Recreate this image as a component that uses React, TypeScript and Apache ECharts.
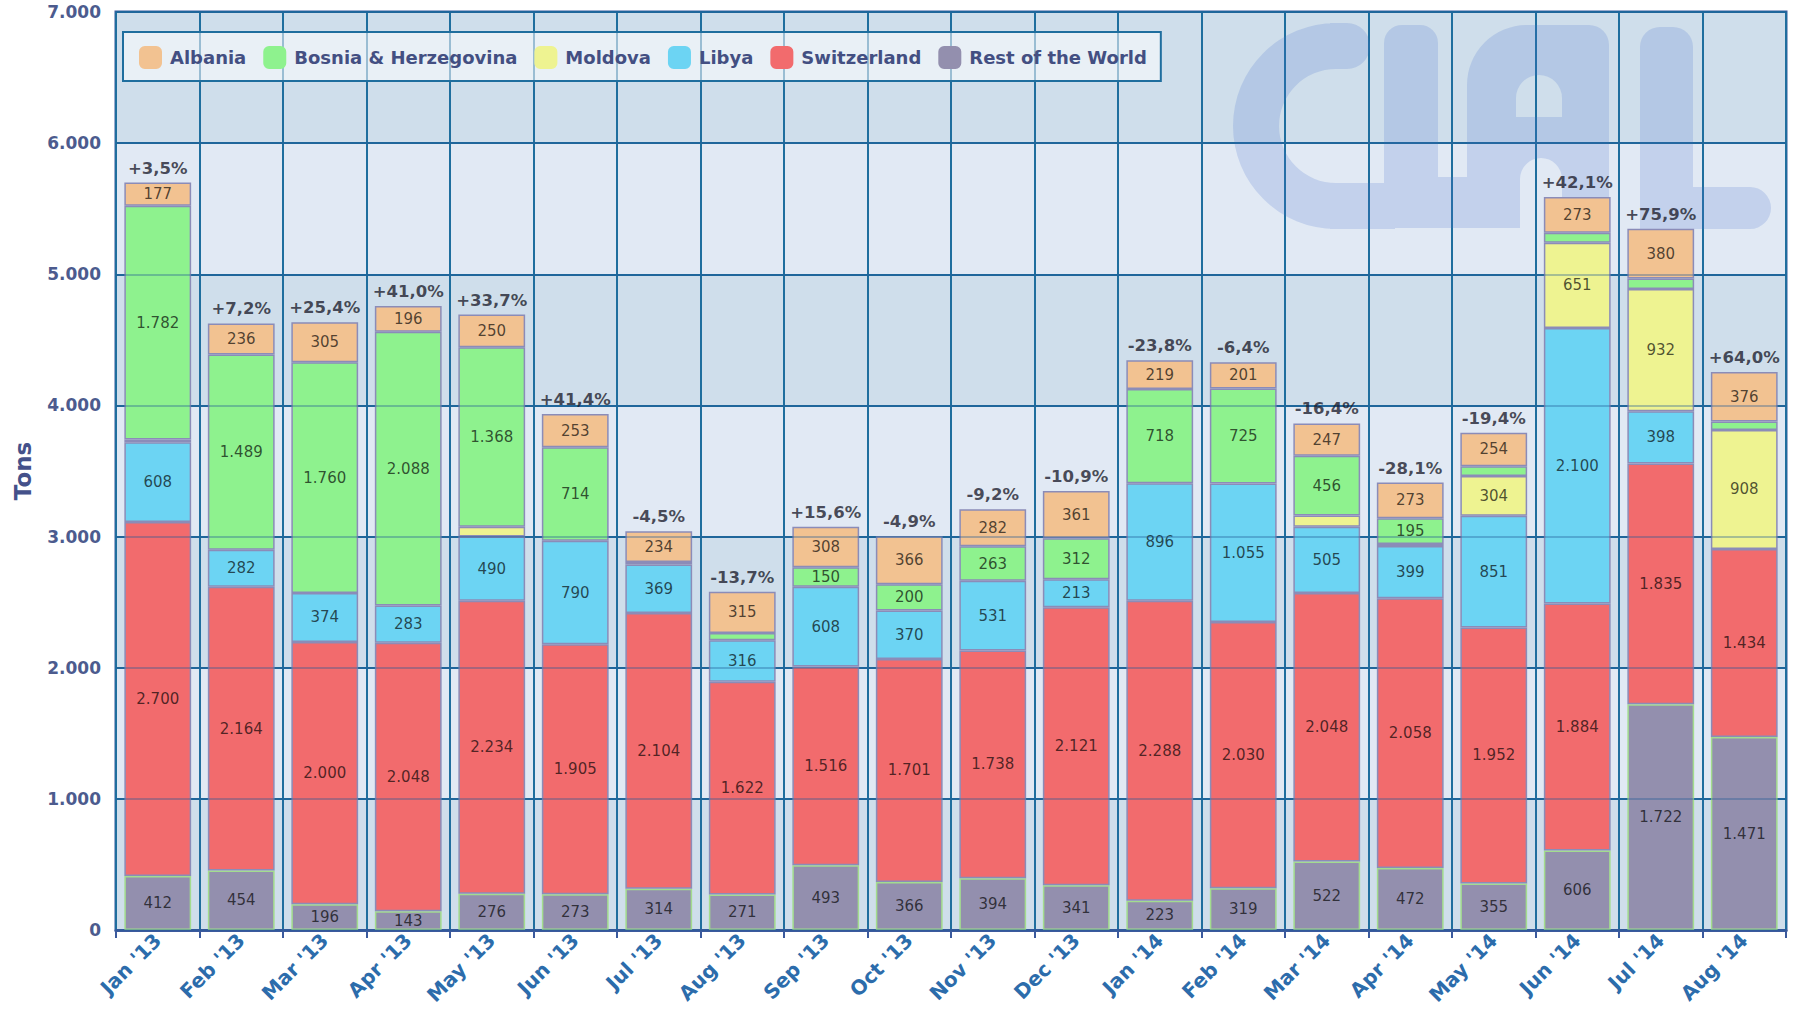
import React, { useEffect, useRef } from "react";
import * as echarts from "echarts";

const categories = [
  "Jan '13", "Feb '13", "Mar '13", "Apr '13", "May '13", "Jun '13", "Jul '13", "Aug '13", "Sep '13", "Oct '13",
  "Nov '13", "Dec '13", "Jan '14", "Feb '14", "Mar '14", "Apr '14", "May '14", "Jun '14", "Jul '14", "Aug '14",
];

const restOfWorld = [412, 454, 196, 143, 276, 273, 314, 271, 493, 366, 394, 341, 223, 319, 522, 472, 355, 606, 1722, 1471];
const switzerland = [2700, 2164, 2000, 2048, 2234, 1905, 2104, 1622, 1516, 1701, 1738, 2121, 2288, 2030, 2048, 2058, 1952, 1884, 1835, 1434];
const libya = [608, 282, 374, 283, 490, 790, 369, 316, 608, 370, 531, 213, 896, 1055, 505, 399, 851, 2100, 398, 0];
const moldova = [20, 0, 0, 0, 75, 0, 0, 0, 0, 0, 0, 0, 0, 0, 85, 15, 304, 651, 932, 908];
const bosnia = [1782, 1489, 1760, 2088, 1368, 714, 20, 55, 150, 200, 263, 312, 718, 725, 456, 195, 75, 75, 80, 65];
const albania = [177, 236, 305, 196, 250, 253, 234, 315, 308, 366, 282, 361, 219, 201, 247, 273, 254, 273, 380, 376];

const changeLabels = [
  "+3,5%", "+7,2%", "+25,4%", "+41,0%", "+33,7%", "+41,4%", "-4,5%", "-13,7%", "+15,6%", "-4,9%",
  "-9,2%", "-10,9%", "-23,8%", "-6,4%", "-16,4%", "-28,1%", "-19,4%", "+42,1%", "+75,9%", "+64,0%",
];

const yTicks = { min: 0, max: 7000, interval: 1000 };

const LOGO_D =
  "M1336 229 A103 103 0 0 1 1336 23 L1336 69 A57 57 0 0 0 1336 183 Z " +
  "M1330 23 H1347 A23 23 0 0 1 1347 69 H1330 Z " +
  "M1330 183 H1395 V229 H1330 Z " +
  "M1384 228 V43 A18 18 0 0 1 1402 25 H1420 A18 18 0 0 1 1438 43 V228 Z " +
  "M1430 177 H1475 V228 H1430 Z " +
  "M1467 228 V85 A60 60 0 0 1 1527 25 H1589 A20 20 0 0 1 1609 45 V228 H1562 V179 A21 21 0 0 0 1520 179 V228 Z " +
  "M1516 117 H1562 V98 A23 23 0 0 0 1516 98 Z " +
  "M1640 228 V47 A20 20 0 0 1 1660 27 H1673 A20 20 0 0 1 1693 47 V187 H1750 A21 21 0 0 1 1750 229 H1640 Z";

echarts.graphic.registerShape("cialLogo", echarts.graphic.extendPath(LOGO_D, {}));

const fmt = (v: number) => String(v).replace(/\B(?=(\d{3})+(?!\d))/g, ".");

const FONT = "DejaVu Sans";

function barSeries(name: string, data: number[], color: string, border: string) {
  return {
    name,
    type: "bar",
    stack: "total",
    barCategoryGap: "20%",
    data: data.map((v) => (v === 0 ? null : v)),
    itemStyle: { color, borderColor: border, borderWidth: 1.5 },
    label: {
      show: true,
      position: "inside",
      fontFamily: FONT,
      fontSize: 15,
      color: "rgba(0,0,0,0.68)",
      formatter: (p: any) => (p.value >= 100 ? fmt(p.value) : ""),
    },
    z: 2,
  };
}

export default function App() {
  const ref = useRef<HTMLDivElement>(null);
  useEffect(() => {
    const chart = echarts.init(ref.current!, null, { renderer: "svg" });
    const totals = categories.map(
      (_, i) => restOfWorld[i] + switzerland[i] + libya[i] + moldova[i] + bosnia[i] + albania[i]
    );
    const option: any = {
      animation: false,
      backgroundColor: "#ffffff",
      textStyle: { fontFamily: FONT },
      grid: {
        left: 116,
        right: 11,
        top: 12,
        bottom: 79,
        show: true,
        borderColor: "#3b5a9d",
        borderWidth: 3,
        backgroundColor: "transparent",
      },
      legend: {
        data: ["Albania", "Bosnia & Herzegovina", "Moldova", "Libya", "Switzerland", "Rest of the World"],
        left: 123,
        top: 32,
        padding: [14, 14, 12, 16],
        itemGap: 17,
        itemWidth: 23,
        itemHeight: 23,
        icon: "roundRect",
        selectedMode: false,
        backgroundColor: "rgba(255,255,255,0.55)",
        borderColor: "#1f6e9e",
        borderWidth: 2,
        itemStyle: { borderWidth: 0 },
        textStyle: { fontFamily: FONT, fontSize: 18, fontWeight: "bold", color: "#434f82", padding: [0, 0, 0, 3] },
      },
      graphic: [
        {
          type: "cialLogo",
          x: 0,
          y: 0,
          z: 1,
          silent: true,
          style: { fill: "rgba(74,117,203,0.2)" },
        },
      ],
      xAxis: {
        type: "category",
        data: categories,
        axisLine: { show: true, lineStyle: { color: "#3b5a9d", width: 3 } },
        axisTick: { show: true, length: 8, lineStyle: { color: "#3b5a9d", width: 2 } },
        splitLine: { show: true, interval: 0, lineStyle: { color: "#1f6e9e", width: 2 } },
        axisLabel: {
          interval: 0,
          rotate: 45,
          margin: 7,
          fontFamily: FONT,
          fontSize: 20,
          fontWeight: "bold",
          color: "#2c6cab",
        },
      },
      yAxis: [
        {
          type: "value",
          min: yTicks.min,
          max: yTicks.max,
          interval: yTicks.interval,
          name: "Tons",
          nameLocation: "middle",
          nameGap: 82,
          nameRotate: 90,
          nameTextStyle: { fontFamily: FONT, fontSize: 23, fontWeight: "bold", color: "#44518a" },
          axisLine: { show: false },
          axisTick: { show: false },
          axisLabel: {
            margin: 15,
            fontFamily: FONT,
            fontSize: 17,
            fontWeight: "bold",
            color: "#4c5b8e",
            formatter: (v: number) => fmt(v),
          },
          splitLine: { show: true, lineStyle: { color: "#1f6e9e", width: 2 } },
          splitArea: { show: true, areaStyle: { color: ["#cfdeeb", "#e1e9f4"] } },
        },
        {
          type: "value",
          min: yTicks.min,
          max: yTicks.max,
          interval: yTicks.interval,
          position: "left",
          z: 3,
          axisLine: { show: false },
          axisTick: { show: false },
          axisLabel: { show: false },
          splitLine: { show: true, lineStyle: { color: "rgba(31,90,150,0.35)", width: 2 } },
        },
      ],
      series: [
        barSeries("Rest of the World", restOfWorld, "#938fae", "#a3dc8e"),
        barSeries("Switzerland", switzerland, "#f26b6d", "#8b8cb8"),
        barSeries("Libya", libya, "#6cd4f3", "#8b8cb8"),
        barSeries("Moldova", moldova, "#eef391", "#8b8cb8"),
        barSeries("Bosnia & Herzegovina", bosnia, "#8ef28e", "#8b8cb8"),
        barSeries("Albania", albania, "#f2c291", "#8b8cb8"),
        {
          name: "change",
          type: "scatter",
          data: totals,
          symbolSize: 0,
          silent: true,
          z: 5,
          label: {
            show: true,
            position: "top",
            distance: 6,
            fontFamily: FONT,
            fontSize: 16.5,
            fontWeight: "bold",
            color: "#1e1e2e",
            formatter: (p: any) => changeLabels[p.dataIndex],
          },
        },
      ],
    };
    chart.setOption(option);
    return () => chart.dispose();
  }, []);
  return (
    <div
      ref={ref}
      style={{ position: "absolute", left: 0, top: 0, width: 1797, height: 1009, background: "#fff" }}
    />
  );
}
